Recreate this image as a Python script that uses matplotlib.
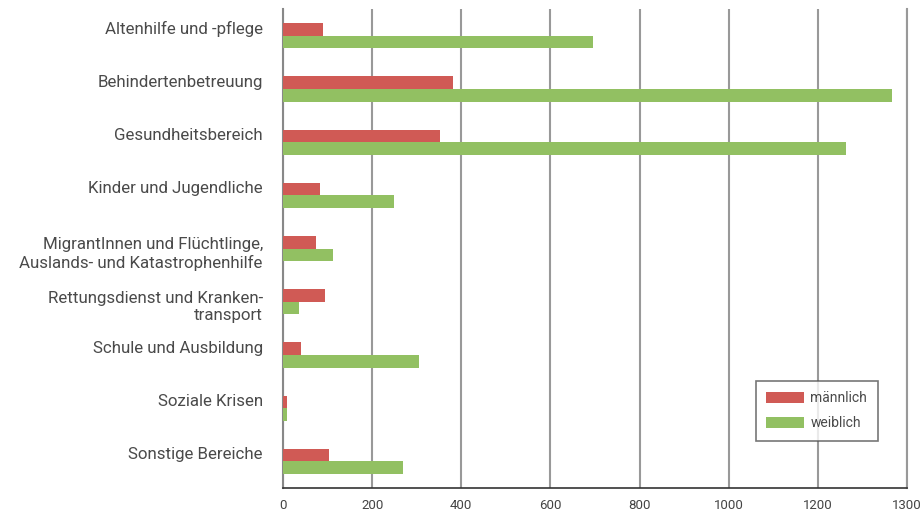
import matplotlib.pyplot as plt
import matplotlib.transforms as mtransforms
import numpy as np

# data
categories = [
    "Altenhilfe und -pflege",
    "Behindertenbetreuung",
    "Gesundheitsbereich",
    "Kinder und Jugendliche",
    "MigrantInnen und Flüchtlinge,\nAuslands- und Katastrophenhilfe",
    "Rettungsdienst und Kranken-\ntransport",
    "Schule und Ausbildung",
    "Soziale Krisen",
    "Sonstige Bereiche",
]
maennlich = [89, 381, 352, 82, 73, 94, 40, 10, 103]
weiblich = [696, 1367, 1262, 248, 112, 35, 305, 10, 269]
xticks = [0, 200, 400, 600, 800, 1000, 1200, 1400]
xticklabels = ["0", "200", "400", "600", "800", "1000", "1200", "1300"]

plt.rcParams['font.family'] = ['Roboto', 'DejaVu Sans']

fig = plt.figure(figsize=(9.23, 5.11), dpi=100)
ax = fig.add_axes([0.3066, 0.045, 0.6761, 0.937])

y = np.arange(len(categories))
h = 0.237
ax.barh(y - h / 2, maennlich, height=h, color='#D05A55', label='männlich', zorder=3)
ax.barh(y + h / 2, weiblich, height=h, color='#92C062', label='weiblich', zorder=3)

ax.set_ylim(len(categories) - 0.5, -0.5)
ax.set_xlim(0, 1400)
ax.set_xticks(xticks)
ax.set_xticklabels(xticklabels, fontsize=9.5, color='#444444')
ax.set_yticks(y)
ax.set_yticklabels(categories, fontsize=12.2, color='#4a4a4a', linespacing=1.2)
ax.tick_params(axis='y', length=0, pad=14.5)
ax.tick_params(axis='x', length=0, pad=8)

# single-line labels sit a bit above the group centre, two-line ones a bit below
for lbl in ax.get_yticklabels():
    dy = -2 if '\n' in lbl.get_text() else 6
    offset = mtransforms.ScaledTranslation(0, dy / 72, fig.dpi_scale_trans)
    lbl.set_transform(lbl.get_transform() + offset)

ax.grid(axis='x', color='#999999', linewidth=1.5, zorder=0)
ax.spines['top'].set_visible(False)
ax.spines['left'].set_color('#888888')
ax.spines['left'].set_linewidth(1.5)
ax.spines['right'].set_color('#999999')
ax.spines['right'].set_linewidth(1.5)
ax.spines['bottom'].set_color('#333333')
ax.spines['bottom'].set_linewidth(1.2)

leg = ax.legend(loc='lower right', bbox_to_anchor=(0.964, 0.084),
                frameon=True, fancybox=False, handlelength=2.7, handleheight=0.9,
                borderpad=0.75, labelspacing=0.8, handletextpad=0.5,
                prop={'size': 10})
leg.get_frame().set_edgecolor('#555555')
leg.get_frame().set_linewidth(1.2)
for t in leg.get_texts():
    t.set_color('#4a4a4a')

fig.savefig('out.png', dpi=100)
